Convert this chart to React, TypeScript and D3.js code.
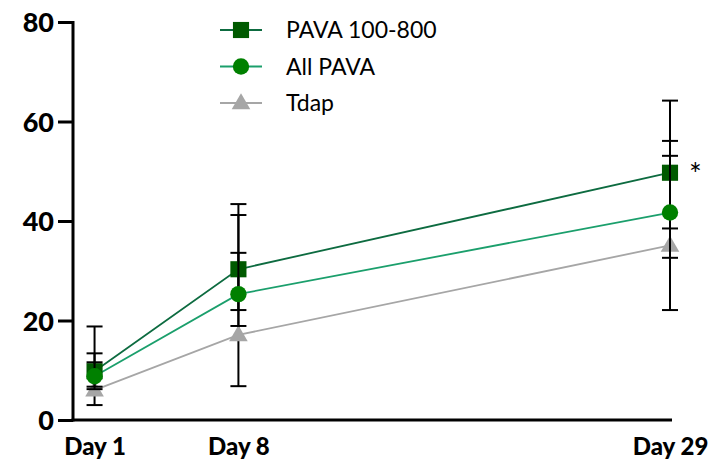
import { useEffect, useRef } from 'react';
import * as d3 from 'd3';

// Study days on the x axis
const DAYS = [1, 8, 29];
const DAY_LABELS = ['Day 1', 'Day 8', 'Day 29'];
const Y_TICKS = [0, 20, 40, 60, 80];

// Values (mean with lower / upper error bar ends)
const PAVA_100_800 = [9.8, 30.3, 49.7];
const PAVA_100_800_LO = [6.7, 22.1, 38.5];
const PAVA_100_800_HI = [13.4, 43.4, 56.1];

const ALL_PAVA = [8.8, 25.3, 41.7];
const ALL_PAVA_LO = [6.2, 18.9, 32.6];
const ALL_PAVA_HI = [11.6, 33.6, 53.1];

const TDAP = [6.0, 17.1, 35.1];
const TDAP_LO = [3.0, 6.8, 22.1];
const TDAP_HI = [18.8, 41.2, 64.2];

// significance marker on the last time point
const STARS = ['', '', '*'];

const FONT = 'Lato, "Open Sans", sans-serif';

const SERIES = [
  { name: 'Tdap', values: TDAP, lo: TDAP_LO, hi: TDAP_HI, line: '#a6a6a6', fill: '#a6a6a6', shape: d3.symbolTriangle, size: 150 },
  { name: 'PAVA 100-800', values: PAVA_100_800, lo: PAVA_100_800_LO, hi: PAVA_100_800_HI, line: '#0d6b40', fill: '#005a00', shape: d3.symbolSquare, size: 260 },
  { name: 'All PAVA', values: ALL_PAVA, lo: ALL_PAVA_LO, hi: ALL_PAVA_HI, line: '#1b9f6c', fill: '#008000', shape: d3.symbolCircle, size: 210 },
];

const LEGEND_ORDER = ['PAVA 100-800', 'All PAVA', 'Tdap'];

export default function App() {
  const yAxisRef = useRef<SVGGElement>(null);
  const xAxisRef = useRef<SVGGElement>(null);

  const width = 712;
  const height = 461;

  const x = d3.scaleLinear().domain([0, 29]).range([74, 670]);
  const y = d3.scaleLinear().domain([0, 80]).range([420, 22]);

  useEffect(() => {
    const yAxis = d3.axisLeft(y).tickValues(Y_TICKS).tickSize(15).tickSizeOuter(0).tickPadding(4);
    const gy = d3.select(yAxisRef.current!);
    gy.selectAll('*').remove();
    gy.call(yAxis);
    gy.select('.domain').remove();
    gy.selectAll('.tick line').attr('stroke', '#000').attr('stroke-width', 3);
    gy.selectAll('.tick text')
      .attr('font-family', FONT)
      .attr('font-weight', 900)
      .attr('font-size', 27)
      .attr('fill', '#000')
      .attr('dy', '0.36em');

    const xAxis = d3.axisBottom(x).tickValues(DAYS).tickSize(0).tickPadding(18)
      .tickFormat((d, i) => DAY_LABELS[i]);
    const gx = d3.select(xAxisRef.current!);
    gx.selectAll('*').remove();
    gx.call(xAxis);
    gx.select('.domain').remove();
    gx.selectAll('.tick text')
      .attr('font-family', FONT)
      .attr('font-weight', 900)
      .attr('font-size', 24)
      .attr('fill', '#000');
  }, []);

  const line = d3.line<number>()
    .x((d, i) => x(DAYS[i]))
    .y((d) => y(d));

  const [x0, x1] = x.range();
  const [yb, yt] = y.range();

  return (
    <div style={{ position: 'absolute', left: 0, top: 0 }}>
      <svg width={width} height={height} style={{ display: 'block', background: '#fff' }}>
        {/* axis lines */}
        <line x1={x0 - 1} x2={x0 - 1} y1={yb + 1.5} y2={yt - 1} stroke="#000" strokeWidth={3} />
        <line x1={x0 - 2.5} x2={x1 + 2} y1={yb} y2={yb} stroke="#000" strokeWidth={3} />
        <g ref={yAxisRef} transform={`translate(${x0 - 1},0)`} />
        <g ref={xAxisRef} transform={`translate(0,${yb})`} />

        {/* connecting lines */}
        {SERIES.map((s) => (
          <path key={s.name + '-line'} d={line(s.values) || ''} fill="none" stroke={s.line} strokeWidth={1.8} />
        ))}

        {/* markers + error bars, layered per series */}
        {SERIES.map((s) => (
          <g key={s.name + '-pts'}>
            {s.values.map((v, i) => (
              <g key={i}>
                <line x1={x(DAYS[i])} x2={x(DAYS[i])} y1={y(s.lo[i])} y2={y(s.hi[i])} stroke="#000" strokeWidth={2} />
                <line x1={x(DAYS[i]) - 8} x2={x(DAYS[i]) + 8} y1={y(s.lo[i])} y2={y(s.lo[i])} stroke="#000" strokeWidth={2} />
                <line x1={x(DAYS[i]) - 8} x2={x(DAYS[i]) + 8} y1={y(s.hi[i])} y2={y(s.hi[i])} stroke="#000" strokeWidth={2} />
              </g>
            ))}
            {s.values.map((v, i) => (
              <path
                key={'m' + i}
                d={d3.symbol().type(s.shape).size(s.size)() || ''}
                transform={`translate(${x(DAYS[i])},${y(v) + (s.shape === d3.symbolTriangle ? 1 : 0)})`}
                fill={s.fill}
              />
            ))}
          </g>
        ))}

        {/* significance */}
        {STARS.map((t, i) => t && (
          <text key={'star' + i} x={x(DAYS[i]) + 19} y={y(PAVA_100_800[i]) + 12}
            fontFamily={FONT} fontSize={30} fontWeight={400} fill="#000">{t}</text>
        ))}

        {/* legend */}
        {LEGEND_ORDER.map((name, i) => {
          const s = SERIES.find((d) => d.name === name)!;
          const ly = 30 + i * 36.5;
          return (
            <g key={name} transform={`translate(241,${ly})`}>
              <line x1={-21} x2={21} y1={0} y2={0} stroke={s.line} strokeWidth={1.8} />
              <path d={d3.symbol().type(s.shape).size(s.size)() || ''} fill={s.fill}
                transform={s.shape === d3.symbolTriangle ? 'translate(0,1)' : undefined} />
              <text x={45} y={0} dy="0.36em" fontFamily={FONT} fontSize={23} fill="#000">{name}</text>
            </g>
          );
        })}
      </svg>
    </div>
  );
}
